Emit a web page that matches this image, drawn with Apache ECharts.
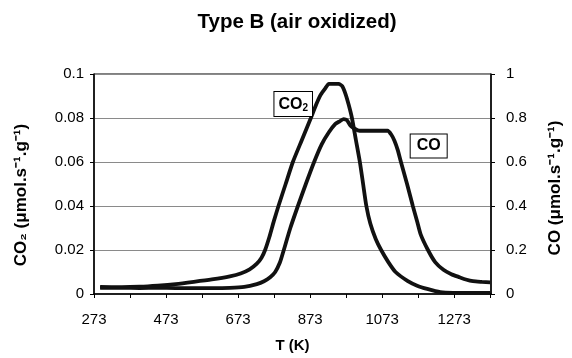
<!DOCTYPE html>
<html>
<head>
<meta charset="utf-8">
<script src="https://cdn.jsdelivr.net/npm/echarts@6/dist/echarts.min.js"></script>
<style>
  html, body { margin: 0; padding: 0; background: #fff; }
  #chart { width: 572px; height: 358px; }
</style>
</head>
<body>
<div id="chart"></div>
<script>
// temperature axis labels / ticks (K)
const xLabels = [273, 473, 673, 873, 1073, 1273];
const xTicks = [273, 373, 473, 573, 673, 773, 873, 973, 1073, 1173, 1273, 1373];

// CO2 trace, left axis (µmol/s/g)
const co2T = [290, 350, 400, 450, 500, 550, 600, 650, 680, 705, 725, 738, 748, 760, 772, 785, 805, 825, 850, 875, 890, 902, 915, 925, 952, 962, 971, 980, 989, 1000, 1011, 1020, 1029, 1040, 1055, 1070, 1090, 1110, 1143, 1170, 1198, 1234, 1270, 1320, 1373];
const co2Vals = [0.0032, 0.0031, 0.0033, 0.0038, 0.0045, 0.0055, 0.0066, 0.0080, 0.0093, 0.0112, 0.0138, 0.0165, 0.0200, 0.0260, 0.0330, 0.0400, 0.0500, 0.0600, 0.0700, 0.0800, 0.0862, 0.0905, 0.0935, 0.0955, 0.0955, 0.0945, 0.0910, 0.0860, 0.0800, 0.0700, 0.0600, 0.0500, 0.0400, 0.0320, 0.0250, 0.0200, 0.0145, 0.0100, 0.0060, 0.0038, 0.0023, 0.0008, 0.0005, 0.0005, 0.0005];

// CO trace, right axis (µmol/s/g)
const coT = [290, 350, 400, 450, 500, 550, 600, 650, 690, 725, 745, 762, 776, 789, 798, 818, 839, 861, 884, 905, 925, 943, 955, 966, 975, 985, 998, 1010, 1088, 1098, 1107, 1116, 1125, 1142, 1158, 1170, 1180, 1200, 1220, 1243, 1265, 1288, 1305, 1325, 1350, 1373];
const coVals = [0.028, 0.028, 0.027, 0.028, 0.027, 0.027, 0.027, 0.028, 0.032, 0.045, 0.058, 0.076, 0.100, 0.143, 0.190, 0.300, 0.400, 0.500, 0.600, 0.680, 0.735, 0.773, 0.785, 0.795, 0.790, 0.765, 0.750, 0.742, 0.742, 0.725, 0.697, 0.655, 0.600, 0.500, 0.400, 0.330, 0.270, 0.200, 0.145, 0.110, 0.090, 0.076, 0.066, 0.058, 0.055, 0.053];

// annotation anchors [T, value]
const co2Tag = [826, 0.0864];
const coTag = [1202, 0.673];

const FONT = "'Liberation Sans', Arial, sans-serif";
const chart = echarts.init(document.getElementById("chart"), null, { renderer: "canvas" });

const tagLabel = {
  show: true,
  position: "inside",
  color: "#000",
  fontFamily: FONT,
  fontWeight: "bold",
  fontSize: 16,
  backgroundColor: "#fff",
  borderColor: "#000",
  borderWidth: 1,
  padding: [4, 6, 3, 6],
};

chart.setOption({
  animation: false,
  backgroundColor: "#fff",
  title: {
    text: "Type B (air oxidized)",
    left: 292,
    textAlign: "center",
    top: 7,
    textStyle: { fontFamily: FONT, fontWeight: "bold", fontSize: 20.5, color: "#000" },
  },
  grid: {
    left: 94, right: 74, top: 74, bottom: 64,
    show: true, borderColor: "#000", borderWidth: 1, backgroundColor: "transparent",
  },
  xAxis: {
    type: "value",
    min: 273,
    max: 1375,
    name: "T (K)",
    nameLocation: "middle",
    nameGap: 44,
    nameTextStyle: { fontFamily: FONT, fontWeight: "bold", fontSize: 15, color: "#000" },
    axisLine: { lineStyle: { color: "#000", width: 1.5 } },
    axisTick: { inside: false, length: 4, lineStyle: { color: "#000" }, customValues: xTicks },
    axisLabel: {
      customValues: xLabels, margin: 18, fontFamily: FONT, fontSize: 15, color: "#000",
      formatter: (v) => String(v),
    },
    splitLine: { show: false },
  },
  yAxis: [
    {
      type: "value",
      min: 0,
      max: 0.1,
      interval: 0.02,
      name: "CO₂ (μmol.s⁻¹.g⁻¹)",
      nameLocation: "middle",
      nameRotate: 90,
      nameGap: 64,
      nameTextStyle: { fontFamily: FONT, fontWeight: "bold", fontSize: 17, color: "#000", padding: [0, 22, 0, 0] },
      axisLine: { show: true, lineStyle: { color: "#000", width: 1.5 } },
      axisTick: { show: true, length: 4, lineStyle: { color: "#000" } },
      axisLabel: { margin: 10, fontFamily: FONT, fontSize: 15, color: "#000" },
      splitLine: { show: true, lineStyle: { color: "#8a8a8a", width: 1 } },
    },
    {
      type: "value",
      min: 0,
      max: 1,
      interval: 0.2,
      position: "right",
      name: "CO (μmol.s⁻¹.g⁻¹)",
      nameLocation: "middle",
      nameRotate: 90,
      nameGap: 56,
      nameTextStyle: { fontFamily: FONT, fontWeight: "bold", fontSize: 17, color: "#000", padding: [0, 8, 0, 0] },
      axisLine: { show: true, lineStyle: { color: "#000", width: 1.5 } },
      axisTick: { show: true, length: 4, lineStyle: { color: "#000" } },
      axisLabel: { margin: 15, fontFamily: FONT, fontSize: 15, color: "#000" },
      splitLine: { show: false },
    },
  ],
  series: [
    {
      name: "CO₂",
      type: "line",
      yAxisIndex: 0,
      data: co2T.map((t, i) => [t, co2Vals[i]]),
      showSymbol: false,
      smooth: 0.2,
      lineStyle: { color: "#111", width: 3.8 },
      markPoint: {
        symbol: "rect",
        symbolSize: 0,
        label: {
          ...tagLabel,
          padding: [4, 4, 3, 4],
          formatter: "CO{s|2}",
          rich: { s: { fontFamily: FONT, fontWeight: "bold", fontSize: 10, verticalAlign: "bottom", padding: [7, 0, 0, 0] } },
        },
        data: [{ coord: co2Tag }],
      },
    },
    {
      name: "CO",
      type: "line",
      yAxisIndex: 1,
      data: coT.map((t, i) => [t, coVals[i]]),
      showSymbol: false,
      smooth: 0.2,
      lineStyle: { color: "#111", width: 3.8 },
      markPoint: {
        symbol: "rect",
        symbolSize: 0,
        label: { ...tagLabel, formatter: "CO" },
        data: [{ coord: coTag }],
      },
    },
  ],
});
</script>
</body>
</html>
